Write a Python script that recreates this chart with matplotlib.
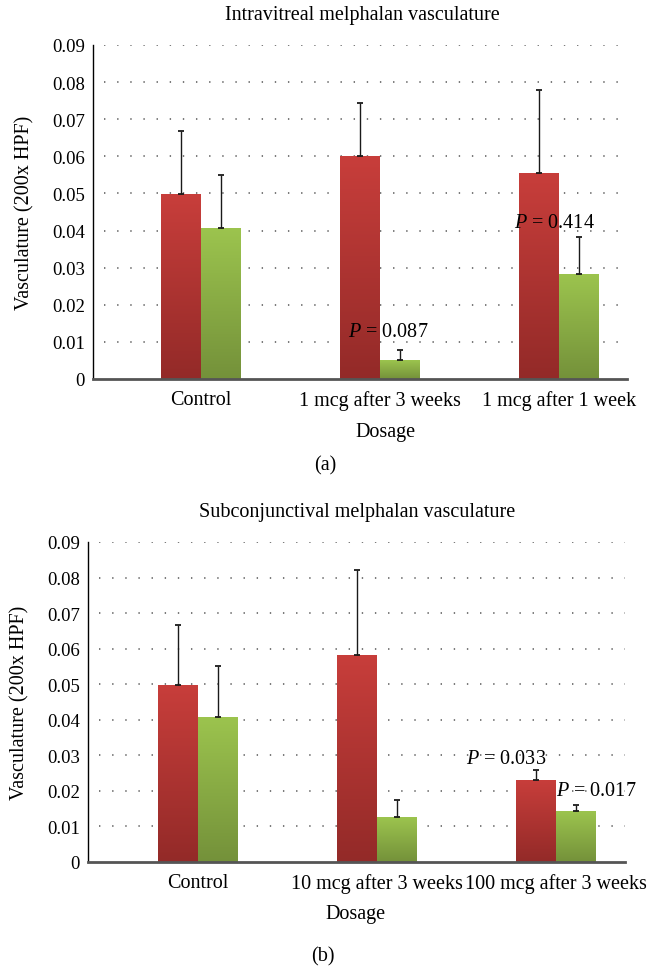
import matplotlib
matplotlib.use("Agg")
import matplotlib.pyplot as plt
import numpy as np
from matplotlib.colors import LinearSegmentedColormap

plt.rcParams['font.family'] = ['Liberation Serif', 'DejaVu Serif']
plt.rcParams['mathtext.fontset'] = 'custom'
plt.rcParams['mathtext.it'] = 'Liberation Serif:italic'
plt.rcParams['mathtext.rm'] = 'Liberation Serif'

# ---- data ----
cats_a = ["Control", "1 mcg after 3 weeks", "1 mcg after 1 week"]
red_a = [0.0498, 0.0602, 0.0556]
red_a_err = [0.0169, 0.0143, 0.0223]
green_a = [0.0406, 0.0050, 0.0282]
green_a_err = [0.0144, 0.0027, 0.0101]
pvals_a = ["0.087", "0.414"]

cats_b = ["Control", "10 mcg after 3 weeks", "100 mcg after 3 weeks"]
red_b = [0.0498, 0.0583, 0.0232]
red_b_err = [0.0169, 0.0238, 0.0027]
green_b = [0.0409, 0.0126, 0.0143]
green_b_err = [0.0141, 0.0048, 0.0018]
pvals_b = ["0.033", "0.017"]

yticks = [0, 0.01, 0.02, 0.03, 0.04, 0.05, 0.06, 0.07, 0.08, 0.09]
ytick_labels = ["0", "0.01", "0.02", "0.03", "0.04", "0.05", "0.06", "0.07", "0.08", "0.09"]

red_cmap = LinearSegmentedColormap.from_list("r", ["#932A28", "#C83E3B"])
green_cmap = LinearSegmentedColormap.from_list("g", ["#74913A", "#9CC44E"])

fig = plt.figure(figsize=(6.48, 9.70), dpi=100)

W = 0.223
TS = 14.5   # general text size
YS = 13.5   # y tick size


def gradient_bars(ax, bars, cmap):
    grad = np.linspace(0, 1, 256).reshape(-1, 1)
    for b in bars:
        x0, y0 = b.get_x(), b.get_y()
        w, h = b.get_width(), b.get_height()
        im = ax.imshow(grad, extent=[x0, x0 + w, y0, y0 + h], origin='lower',
                       cmap=cmap, aspect='auto', zorder=2)
        im.set_clip_path(b)
        b.set_facecolor('none')


def draw(ax, cats, red, red_err, green, green_err, xlim, title):
    x = np.arange(len(cats))
    rb = ax.bar(x - W / 2, red, W, color='#C0392B', zorder=2, linewidth=0)
    gb = ax.bar(x + W / 2, green, W, color='#9BBB59', zorder=2, linewidth=0)
    gradient_bars(ax, rb, red_cmap)
    gradient_bars(ax, gb, green_cmap)
    for xs, v, e in ((x - W / 2, red, red_err), (x + W / 2, green, green_err)):
        ax.errorbar(xs, v, yerr=[np.zeros(len(v)), e], fmt='none',
                    ecolor='#1a1a1a', elinewidth=1, capsize=2.2, capthick=1.3, zorder=3)
    ax.set_xlim(*xlim)
    ax.set_ylim(0, 0.09)
    ax.set_yticks(yticks)
    ax.set_yticklabels(ytick_labels, fontsize=YS)
    ax.set_xticks(x)
    ax.set_xticklabels(cats, fontsize=TS)
    ax.tick_params(axis='x', length=0, pad=8)
    ax.tick_params(axis='y', length=0, pad=6)
    for yv in yticks[1:]:
        ax.plot([xlim[0] + 0.06, xlim[1]], [yv, yv], color='#555555',
                linestyle=(0, (0.9, 7.7)), linewidth=1.1, zorder=1)
    for s in ['top', 'right']:
        ax.spines[s].set_visible(False)
    ax.spines['left'].set_color('black')
    ax.spines['left'].set_linewidth(1.0)
    ax.spines['bottom'].set_color('#555555')
    ax.spines['bottom'].set_linewidth(2.0)
    ax.spines['bottom'].set_zorder(4)
    return x


def labels(ax, px_left, px_top, px_bottom, px_right, ylab_x, title_x, title_y, dos_x, dos_y, title):
    w = px_right - px_left
    h = px_bottom - px_top
    ax.text((title_x - px_left) / w, (px_bottom - title_y) / h, title, transform=ax.transAxes,
            ha='center', va='center', fontsize=TS)
    ax.text((dos_x - px_left) / w, (px_bottom - dos_y) / h, "Dosage", transform=ax.transAxes,
            ha='center', va='center', fontsize=TS)
    ax.text((ylab_x - px_left) / w, 0.5, "Vasculature (200x HPF)", transform=ax.transAxes,
            ha='center', va='center', rotation=90, fontsize=TS)


ax1 = fig.add_axes([93 / 648, 1 - 380 / 970, 534 / 648, 334 / 970])
x1 = draw(ax1, cats_a, red_a, red_a_err, green_a, green_a_err, (-0.603, 2.380),
          "Intravitreal melphalan vasculature")
labels(ax1, 93, 46, 380, 627, 25, 362, 16, 385, 433, "Intravitreal melphalan vasculature")
ax1.text(1.045, 0.0129, r"$P$ = " + pvals_a[0], ha='center', va='center', fontsize=TS)
ax1.text(1.972, 0.0423, r"$P$ = " + pvals_a[1], ha='center', va='center', fontsize=TS)

ax2 = fig.add_axes([88 / 648, 1 - 863 / 970, 537 / 648, 320 / 970])
x2 = draw(ax2, cats_b, red_b, red_b_err, green_b, green_b_err, (-0.615, 2.385),
          "Subconjunctival melphalan vasculature")
labels(ax2, 88, 543, 863, 625, 20, 357, 513, 356, 915, "Subconjunctival melphalan vasculature")
ax2.text(1.72, 0.0290, r"$P$ = " + pvals_b[0], ha='center', va='center', fontsize=TS)
ax2.text(2.223, 0.0200, r"$P$ = " + pvals_b[1], ha='center', va='center', fontsize=TS)

fig.text(325 / 648, 1 - 466 / 970, "(a)", ha='center', va='center', fontsize=TS)
fig.text(323 / 648, 1 - 957 / 970, "(b)", ha='center', va='center', fontsize=TS)

fig.savefig("out.png", dpi=100)
